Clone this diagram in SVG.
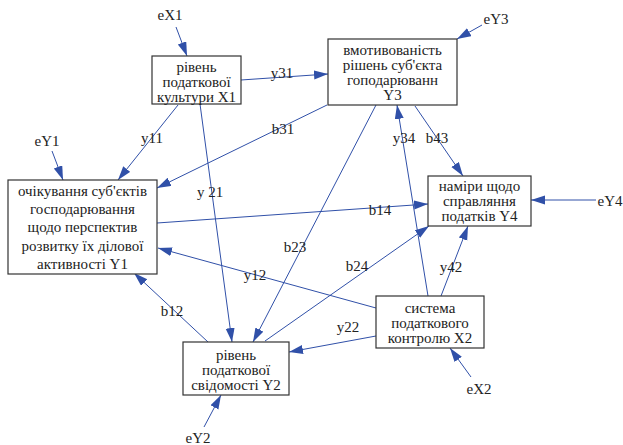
<svg xmlns="http://www.w3.org/2000/svg" width="623" height="445" viewBox="0 0 623 445">
<style>
text{font-family:"Liberation Serif","Times New Roman",serif;font-size:15px;fill:#222;text-anchor:middle}
.box{fill:#fff;stroke:#333;stroke-width:1.2}
.c line{stroke:#3050a8;stroke-width:1;marker-end:url(#ah)}
</style>
<defs>
<marker id="ah" markerUnits="userSpaceOnUse" markerWidth="15" markerHeight="10" refX="14" refY="4.5" orient="auto">
<path d="M0,0 L14,4.5 L0,9 Z" fill="#3050a8"/>
</marker>
</defs>
<g class="c" id="connectors">
<line x1="176" y1="27" x2="187" y2="56"/>
<line x1="52" y1="151" x2="63" y2="180"/>
<line x1="178" y1="105" x2="118" y2="180"/>
<line x1="241" y1="80" x2="328" y2="74"/>
<line x1="327" y1="105" x2="157" y2="188"/>
<line x1="200" y1="104" x2="232" y2="342"/>
<line x1="482" y1="25" x2="457" y2="39"/>
<line x1="415" y1="106" x2="463" y2="176"/>
<line x1="428" y1="296" x2="397" y2="105"/>
<line x1="157" y1="223" x2="428" y2="204"/>
<line x1="596" y1="200" x2="531" y2="200"/>
<line x1="376" y1="105" x2="253" y2="342"/>
<line x1="265" y1="341" x2="429" y2="226"/>
<line x1="376" y1="308" x2="158" y2="248"/>
<line x1="441" y1="296" x2="468" y2="226"/>
<line x1="376" y1="336" x2="289" y2="352"/>
<line x1="208" y1="342" x2="134" y2="273"/>
<line x1="204" y1="427" x2="221" y2="395"/>
<line x1="471" y1="377" x2="450" y2="348"/>
</g>
<g id="labels">
<text x="170" y="20">eX1</text>
<text x="47" y="146">eY1</text>
<text x="496" y="24">eY3</text>
<text x="610" y="206">eY4</text>
<text x="198" y="443">eY2</text>
<text x="479" y="394">eX2</text>
<text x="282" y="78">y31</text>
<text x="152" y="143">y11</text>
<text x="283" y="134">b31</text>
<text x="210" y="197">y 21</text>
<text x="404" y="143">y34</text>
<text x="437" y="143">b43</text>
<text x="380" y="215">b14</text>
<text x="295" y="252">b23</text>
<text x="255" y="280">y12</text>
<text x="172" y="316">b12</text>
<text x="357" y="271">b24</text>
<text x="451" y="272">y42</text>
<text x="348" y="332">y22</text>
</g>
<g id="X1">
<rect class="box" x="152" y="56" width="89" height="48"/>
<text x="196.5" y="72">рівень</text>
<text x="196.5" y="87">податкової</text>
<text x="196.5" y="102">культури X1</text>
</g>
<g id="Y3">
<rect class="box" x="328" y="39" width="129" height="66"/>
<text x="392.5" y="55">вмотивованість</text>
<text x="392.5" y="70">рішень суб'єкта</text>
<text x="392.5" y="85">гоподарюванн</text>
<text x="392.5" y="100">Y3</text>
</g>
<g id="Y1">
<rect class="box" x="8" y="180" width="149" height="94"/>
<text x="82.5" y="196">очікування суб'єктів</text>
<text x="82.5" y="214">господарювання</text>
<text x="82.5" y="232">щодо перспектив</text>
<text x="82.5" y="251">розвитку їх ділової</text>
<text x="82.5" y="269">активності Y1</text>
</g>
<g id="Y4">
<rect class="box" x="428" y="176" width="103" height="50"/>
<text x="479.5" y="191">наміри щодо</text>
<text x="479.5" y="206">справляння</text>
<text x="479.5" y="221">податків Y4</text>
</g>
<g id="X2">
<rect class="box" x="376" y="296" width="108" height="52"/>
<text x="430" y="313">система</text>
<text x="430" y="328">податкового</text>
<text x="430" y="343">контролю X2</text>
</g>
<g id="Y2">
<rect class="box" x="183" y="342" width="106" height="53"/>
<text x="236" y="360">рівень</text>
<text x="236" y="375">податкової</text>
<text x="236" y="390">свідомості Y2</text>
</g>
</svg>
